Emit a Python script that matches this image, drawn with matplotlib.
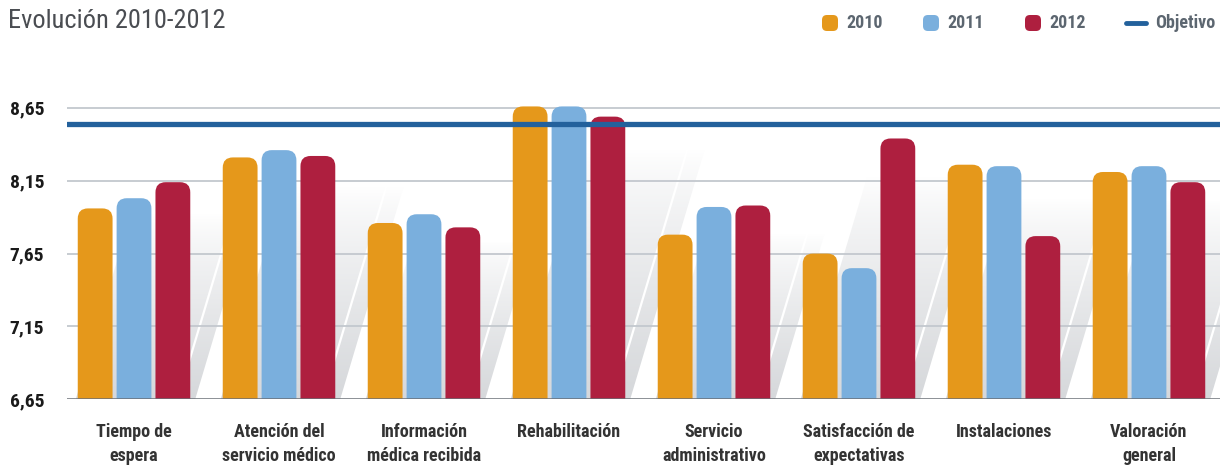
import numpy as np
import matplotlib.pyplot as plt
from matplotlib import font_manager
from matplotlib.colors import LinearSegmentedColormap
from matplotlib.patches import FancyBboxPatch, Polygon
from matplotlib.lines import Line2D

# Data
categories = ['Tiempo de\nespera', 'Atención del\nservicio médico',
              'Información\nmédica recibida', 'Rehabilitación',
              'Servicio\nadministrativo', 'Satisfacción de\nexpectativas',
              'Instalaciones', 'Valoración\ngeneral']
years = ['2010', '2011', '2012']
v2010 = [7.96, 8.31, 7.86, 8.66, 7.78, 7.65, 8.26, 8.21]
v2011 = [8.03, 8.36, 7.92, 8.66, 7.97, 7.55, 8.25, 8.25]
v2012 = [8.14, 8.32, 7.83, 8.59, 7.98, 8.44, 7.77, 8.14]
objetivo = 8.54
yticks = [6.65, 7.15, 7.65, 8.15, 8.65]
ytick_labels = ['6,65', '7,15', '7,65', '8,15', '8,65']

colors = ['#e5981b', '#7aafdd', '#ae1f3f']
obj_color = '#23619c'


def pick_font(names, default='DejaVu Sans'):
    installed = {f.name for f in font_manager.fontManager.ttflist}
    for name in names:
        if name in installed:
            return name
    return default


narrow = pick_font(['Liberation Sans Narrow', 'Roboto Condensed',
                    'Open Sans Condensed', 'DejaVu Sans Condensed', 'Roboto'])
title_font = pick_font(['Roboto Condensed', 'DejaVu Sans Condensed',
                        'Liberation Sans Narrow', 'Roboto'])

fig = plt.figure(figsize=(12.29, 4.65), dpi=100)
ax = fig.add_axes([0.0543, 0.1413, 0.9384, 0.6737])

x = np.arange(len(categories))
step = 0.268
width = 0.24
ymin, ymax = 6.65, 8.80
series = [v2010, v2011, v2012]

# Soft slanted shadows behind each group
shade = LinearSegmentedColormap.from_list('shade', ['#ffffff', '#d6d8db'])
grad = np.linspace(0, 1, 256).reshape(-1, 1) ** 0.8
for i, c in enumerate(x):
    top = max(s[i] for s in series)
    h = 0.85 * (top - ymin)
    gl, gr = c - 1.5 * step, c + 1.5 * step + 0.02
    shear = 0.3 * h
    pts = [(gl, ymin), (gr, ymin), (gr + shear, ymin + h), (gl + shear, ymin + h)]
    poly = Polygon(pts, closed=True, facecolor='none', edgecolor='none')
    ax.add_patch(poly)
    im = ax.imshow(grad, cmap=shade, vmin=0, vmax=1, origin='upper',
                   extent=[gl, gr + shear, ymin, ymin + h], aspect='auto',
                   zorder=0.5)
    im.set_clip_path(poly)
    ax.plot([gr - 0.12, gr - 0.12 + 0.3 * h], [ymin, ymin + h],
            color='white', lw=1.6, zorder=0.6)

for y in yticks[1:]:
    ax.axhline(y, color='#c3c8ce', lw=1.3, zorder=1)

# Bars with rounded tops
for k, vals in enumerate(series):
    bars = ax.bar(x + (k - 1) * step, vals, width, bottom=6.4,
                  color=colors[k], alpha=0)
    for b in bars:
        p = FancyBboxPatch((b.get_x(), b.get_y()), b.get_width(), b.get_height() - 6.4,
                           boxstyle='round,pad=0,rounding_size=0.07',
                           facecolor=colors[k], edgecolor='none', zorder=2)
        ax.add_patch(p)

ax.axhline(objetivo, color=obj_color, lw=3.8, solid_capstyle='round', zorder=3)
ax.axhline(ymin, color='#6b7077', lw=1.8, zorder=3)

ax.set_xlim(-0.464, 7.49)
ax.set_ylim(ymin, ymax)
for s in ax.spines.values():
    s.set_visible(False)

ax.set_yticks(yticks)
ax.set_yticklabels(ytick_labels, fontfamily=narrow, fontweight='bold',
                   fontsize=14, color='#1a1a1a', ha='left')
ax.tick_params(axis='y', length=0, pad=41)
ax.set_xticks(x)
ax.set_xticklabels(categories, fontfamily=narrow, fontweight='bold',
                   fontsize=13, color='#333333', linespacing=1.45)
ax.tick_params(axis='x', length=0, pad=17)

# Title and legend
fig.text(0.0065, 0.955, 'Evolución 2010-2012', fontfamily=title_font,
         fontsize=19, color='#4a4d52', va='center', ha='left')

leg_y = 1 - 23 / 465
for px, label, col in [(830, '2010', colors[0]), (931, '2011', colors[1]),
                       (1033, '2012', colors[2])]:
    sq = FancyBboxPatch(((px - 8) / 1229, leg_y - 8 / 465), 16 / 1229, 16 / 465,
                        boxstyle='round,pad=0,rounding_size=0.004',
                        transform=fig.transFigure, facecolor=col,
                        edgecolor='none', mutation_aspect=1229 / 465)
    fig.patches.append(sq)
    fig.text((px + 16) / 1229, leg_y, label, fontfamily=narrow, fontweight='bold',
             fontsize=13, color='#5c6670', va='center', ha='left')
fig.lines.append(Line2D([1126 / 1229, 1146 / 1229], [leg_y, leg_y],
                        transform=fig.transFigure, color=obj_color, lw=3.5,
                        solid_capstyle='round'))
fig.text(1155 / 1229, leg_y, 'Objetivo', fontfamily=narrow, fontweight='bold',
         fontsize=13, color='#5c6670', va='center', ha='left')

fig.savefig('out.png', dpi=100)
